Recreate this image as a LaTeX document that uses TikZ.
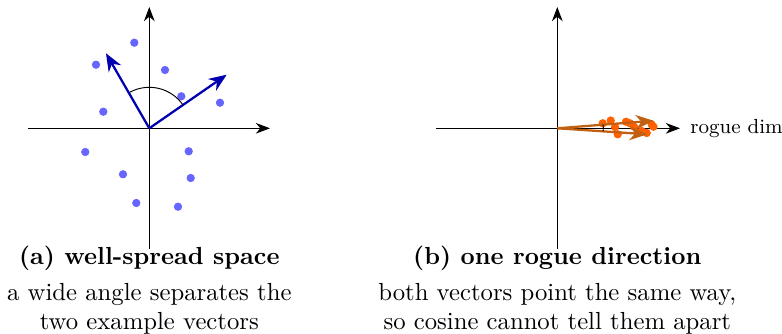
\documentclass[tikz,border=0pt]{standalone}
\usetikzlibrary{arrows.meta,calc}
\definecolor{dotblue}{HTML}{6666FF}
\definecolor{vecblue}{HTML}{0000B0}
\definecolor{dotorange}{HTML}{FF6000}
\definecolor{vecorange}{HTML}{C06010}
\begin{document}
\begin{tikzpicture}[x=0.421pt,y=0.421pt,
  axis/.style={line width=0.4pt,-{Stealth[length=6pt,width=4.5pt]}},
  vec/.style={line width=0.95pt,-{Stealth[length=7.5pt,width=6pt]}},
  bdot/.style={circle,fill=dotblue,inner sep=0pt,minimum size=3.5pt},
  odot/.style={circle,fill=dotorange,inner sep=0pt,minimum size=3.5pt},
  ttl/.style={font=\fontsize{10.4}{12.5}\selectfont\bfseries,anchor=center},
  captext/.style={font=\fontsize{10.4}{12.2}\selectfont,align=center,anchor=center}]
\useasboundingbox (0,0) rectangle (782,-334);
% ---------- panel (a)
\coordinate (oa) at (149.3,-128.3);
\coordinate (axl) at (28,-128.3);
\coordinate (axr) at (270,-128.3);
\coordinate (ayt) at (149.3,-7);
\coordinate (ayb) at (149.3,-249);
\draw[axis] (axl) -- (axr);
\draw[axis] (ayb) -- (ayt);
\foreach \n/\x/\y in {a1/134.3/42.7, a2/96/64.7, a3/165/70, a4/181.3/96.3, a5/220/102.7, a6/103.3/111.7, a7/85.3/152, a8/188.7/151.3, a9/123/174.3, a10/190.7/178, a11/136.3/203, a12/178/206.7}
  \node[bdot] (\n) at (\x,-\y) {};
\coordinate (va1) at (106,-53.3);
\coordinate (va2) at (226.7,-74.7);
\draw[vec,vecblue] (oa) -- (va1);
\draw[vec,vecblue] (oa) -- (va2);
\draw[line width=0.4pt] ($(oa)+(34.7:41)$) arc[start angle=34.7,end angle=118,radius=41];
\node[ttl] (ta) at (149.3,-258.5) {(a) well-spread space};
\node[captext] (ca) at (149.3,-309) {a wide angle separates the\\two example vectors};
% ---------- panel (b)
\coordinate (ob) at (557.3,-128.3);
\coordinate (bxl) at (436,-128.3);
\coordinate (bxr) at (680,-128.3);
\coordinate (byt) at (557.3,-7);
\coordinate (byb) at (557.3,-249);
\draw[axis] (bxl) -- (bxr);
\draw[axis] (byb) -- (byt);
\node[anchor=west,font=\fontsize{8.6}{10}\selectfont,inner sep=0pt] (rd) at (690,-128.3) {rogue dim};
\foreach \n/\x/\y in {b1/602.7/123.3, b2/610.7/120.5, b3/617.7/134.3, b4/626/121.7, b5/630/123.3, b6/634/126.7, b7/637.3/132.8, b8/641.7/131, b9/646.7/133, b10/651.7/124.5, b11/653.5/126.7, b12/615/127}
  \node[odot] (\n) at (\x,-\y) {};
\coordinate (vb1) at (653.5,-120.7);
\coordinate (vb2) at (647.3,-134.3);
\draw[vec,vecorange] (ob) -- (vb1);
\draw[vec,vecorange] (ob) -- (vb2);
\draw[line width=0.4pt] ($(ob)+(-3.8:46)$) arc[start angle=-3.8,end angle=4.6,radius=46];
\node[ttl] (tb) at (557.3,-258.5) {(b) one rogue direction};
\node[captext] (cb) at (557.3,-309) {both vectors point the same way,\\so cosine cannot tell them apart};
\end{tikzpicture}
\end{document}
